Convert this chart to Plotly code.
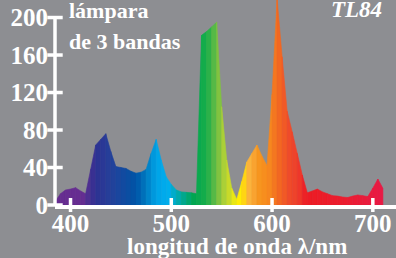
import plotly.graph_objects as go

# ---- data ----
wavelengths = list(range(385, 711, 5))
intensity = [4, 12, 16, 17, 18.5, 15, 12, 38, 64, 70, 76, 57, 41, 40, 39, 36, 34, 35, 38, 55,
             70, 48, 30, 22, 16, 14, 13.5, 13, 12, 181, 185, 190, 195, 105, 48, 18, 6, 25, 46, 55,
             64, 52, 42, 118, 220, 158, 100, 78, 55, 32, 13, 15, 17, 14, 12, 10, 9.5, 8.5, 8, 9.5,
             10.7, 10, 9, 18, 27.7, 17.8]
x_ticks = [400, 500, 600, 700]
y_ticks = [0, 40, 80, 120, 160, 200]
x_title = "longitud de onda λ/nm"
label_lines = ["lámpara", "de 3 bandas"]
lamp_name = "TL84"

# ---- style ----
BG = "#8d8e92"
FONT = "Liberation Serif"
X_RANGE = [384.6, 723]
Y_RANGE = [0, 218.7]
stop_wl = [385, 412, 425, 440, 465, 475, 485, 497, 510, 522, 535, 545, 552, 560, 566, 572, 578,
           588, 598, 608, 618, 626, 634, 670, 710]
stop_col = ["#662d91", "#662d91", "#2e3192", "#25409a", "#0054a6", "#0079c1", "#00a3e6",
            "#00aeef", "#00a99d", "#00a651", "#17ad4a", "#6bbd45", "#a8cf38", "#d7df23",
            "#fff200", "#ffd80f", "#fbb040", "#f7941d", "#f6861f", "#f26522", "#ef4a2a",
            "#ee3d2c", "#ed1c24", "#ec1c2e", "#e81a45"]


def hex2rgb(h):
    h = h.lstrip("#")
    return [int(h[i:i + 2], 16) for i in (0, 2, 4)]


def color_at(w):
    if w <= stop_wl[0]:
        return stop_col[0]
    for i in range(len(stop_wl) - 1):
        a, b = stop_wl[i], stop_wl[i + 1]
        if a <= w <= b:
            t = (w - a) / (b - a)
            ca, cb = hex2rgb(stop_col[i]), hex2rgb(stop_col[i + 1])
            c = [round(ca[k] + (cb[k] - ca[k]) * t) for k in range(3)]
            return "rgb(%d,%d,%d)" % tuple(c)
    return stop_col[-1]


fig = go.Figure()
for i in range(len(wavelengths) - 1):
    x0, x1 = wavelengths[i], wavelengths[i + 1]
    y0, y1 = intensity[i], intensity[i + 1]
    fig.add_trace(go.Scatter(
        x=[x0, x0, x1, x1, x0], y=[0, y0, y1, 0, 0],
        mode="lines", fill="toself", fillcolor=color_at((x0 + x1) / 2),
        line=dict(width=0.6, color=color_at((x0 + x1) / 2)),
        hoverinfo="skip", showlegend=False))

# crossing tick marks
fig.add_trace(go.Scatter(
    x=x_ticks, y=[0] * len(x_ticks), mode="markers", cliponaxis=False,
    marker=dict(symbol="line-ns", size=10, line=dict(width=3.5, color="white")),
    hoverinfo="skip", showlegend=False))
fig.add_trace(go.Scatter(
    x=[X_RANGE[0]] * len(y_ticks), y=y_ticks, mode="markers", cliponaxis=False,
    marker=dict(symbol="line-ew", size=11, line=dict(width=3.5, color="white")),
    hoverinfo="skip", showlegend=False))

# y axis line only up to last tick
fig.add_shape(type="line", xref="paper", yref="y", x0=0, x1=0, y0=0, y1=max(y_ticks),
              line=dict(color="white", width=3.5), layer="above")

tickfont = dict(family=FONT, size=25, color="white", weight="bold")
fig.update_xaxes(range=X_RANGE, tickvals=x_ticks, ticktext=[str(v) for v in x_ticks],
                 showgrid=False, zeroline=False, showline=True, linecolor="white",
                 linewidth=3.5, ticks="", tickfont=tickfont, ticklabelstandoff=-7,
                 automargin=False)
fig.update_yaxes(range=Y_RANGE, tickvals=y_ticks, ticktext=[str(v) for v in y_ticks],
                 showgrid=False, zeroline=False, showline=False, ticks="",
                 tickfont=tickfont, ticklabelstandoff=6, automargin=False)

annfont = dict(family=FONT, size=22, color="white", weight="bold")
fig.add_annotation(text=label_lines[0], xref="paper", yref="paper", x=0.036, y=0.9488,
                   xanchor="left", yanchor="middle", showarrow=False, font=annfont)
fig.add_annotation(text=label_lines[1], xref="paper", yref="paper", x=0.036, y=0.7976,
                   xanchor="left", yanchor="middle", showarrow=False, font=annfont)
fig.add_annotation(text="<i>" + lamp_name + "</i>", xref="paper", yref="paper", x=0.8827,
                   y=0.9537, xanchor="center", yanchor="middle", showarrow=False,
                   font=dict(family=FONT, size=23, color="white", weight="bold"))
fig.add_annotation(text=x_title, xref="paper", yref="paper", x=0.534, y=-0.2,
                   xanchor="center", yanchor="middle", showarrow=False,
                   font=dict(family=FONT, size=23, color="white", weight="bold"))

fig.update_layout(width=396, height=258, margin=dict(l=55, r=0, t=0, b=53, autoexpand=False),
                  paper_bgcolor=BG, plot_bgcolor=BG)
fig.write_html("out.html", config={"displayModeBar": False},
               post_script="document.body.style.margin='0';document.body.style.background='%s';" % BG)
